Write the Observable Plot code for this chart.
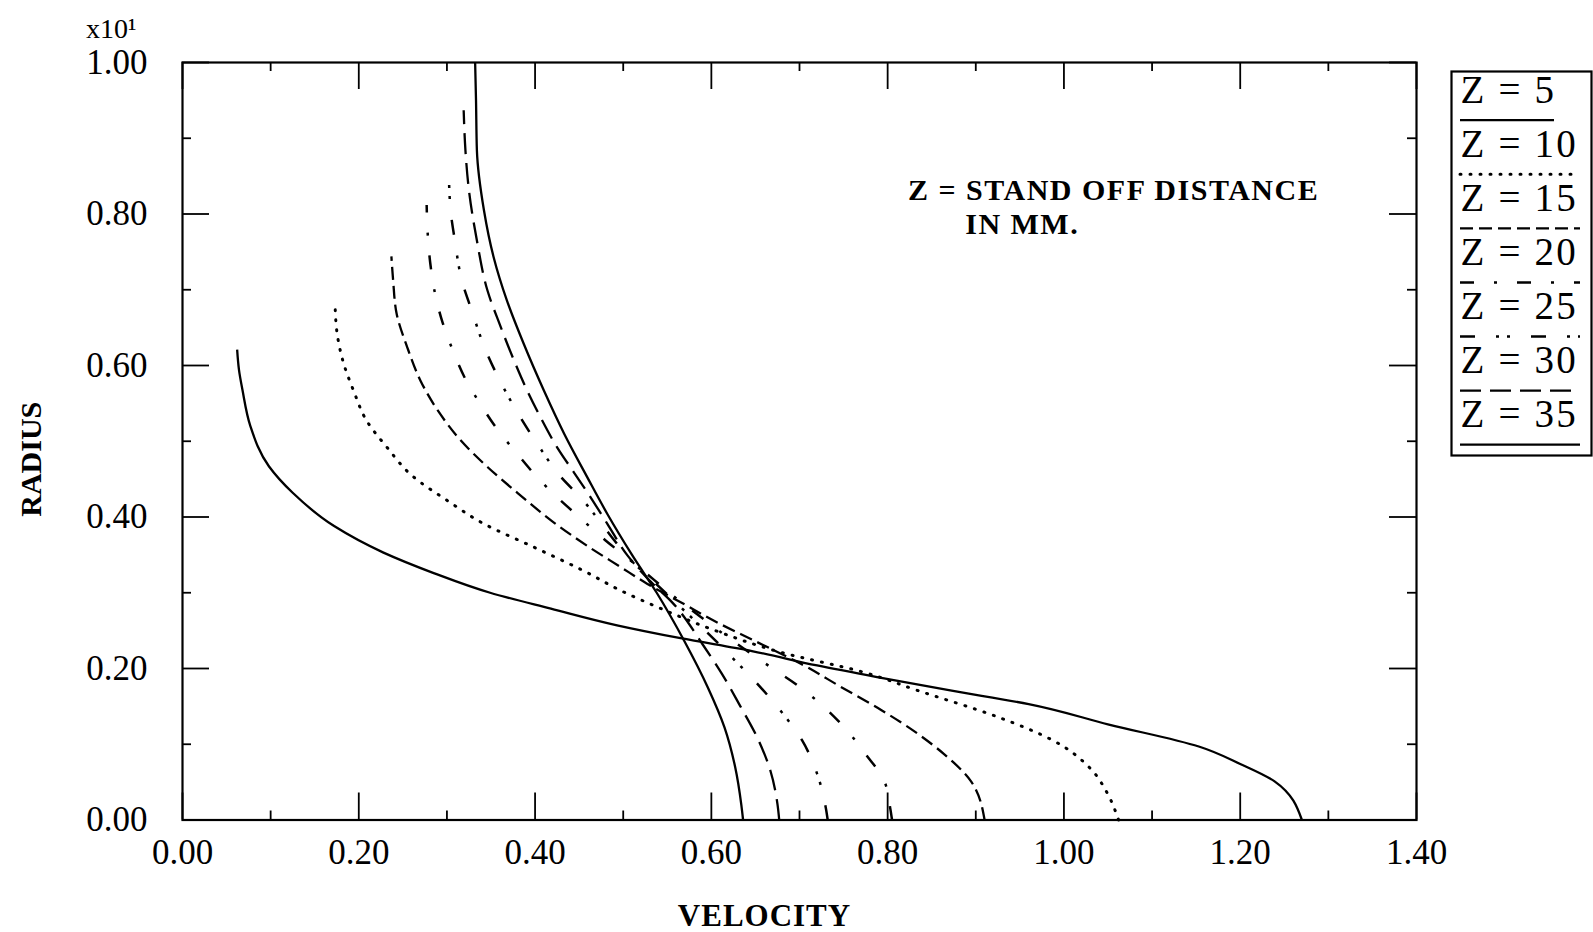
<!DOCTYPE html>
<html><head><meta charset="utf-8">
<script src="https://cdn.jsdelivr.net/npm/d3@7"></script>
<script src="https://cdn.jsdelivr.net/npm/@observablehq/plot@0.6"></script>
<style>
html,body{margin:0;padding:0;background:#fff;}
#wrap{position:relative;width:1593px;height:932px;overflow:hidden;background:#fff;}
#legend{position:absolute;left:1451px;top:61px;}
#legend text{letter-spacing:2.2px;}
</style></head><body><div id="wrap"><div id="main"></div><div id="legend"></div></div>
<script>
// ---- data: [velocity, radius] ----
const seriesNames = ["Z = 5", "Z = 10", "Z = 15", "Z = 20", "Z = 25", "Z = 30", "Z = 35"];
const z5 = [[0.062,0.621],[0.064,0.595],[0.068,0.568],[0.077,0.520],[0.098,0.467],[0.125,0.432],[0.172,0.388],[0.228,0.353],[0.285,0.326],[0.349,0.300],[0.418,0.279],[0.493,0.257],[0.565,0.240],[0.646,0.223],[0.720,0.204],[0.796,0.187],[0.871,0.171],[0.960,0.153],[1.051,0.126],[1.153,0.097],[1.200,0.074],[1.239,0.051],[1.270,0.0]];
const z10 = [[0.173,0.684],[0.175,0.646],[0.183,0.602],[0.194,0.567],[0.209,0.527],[0.232,0.492],[0.262,0.453],[0.300,0.422],[0.342,0.391],[0.399,0.360],[0.455,0.329],[0.497,0.303],[0.539,0.281],[0.600,0.252],[0.677,0.222],[0.773,0.195],[0.834,0.171],[0.925,0.136],[0.986,0.106],[1.030,0.068],[1.048,0.038],[1.062,0.0]];
const z15 = [[0.237,0.744],[0.239,0.712],[0.243,0.668],[0.255,0.624],[0.270,0.580],[0.290,0.540],[0.315,0.502],[0.346,0.466],[0.384,0.428],[0.421,0.393],[0.459,0.362],[0.497,0.334],[0.527,0.312],[0.569,0.285],[0.603,0.263],[0.650,0.236],[0.702,0.206],[0.748,0.175],[0.793,0.145],[0.834,0.114],[0.864,0.087],[0.894,0.052],[0.910,0.0]];
const z20 = [[0.277,0.812],[0.278,0.778],[0.281,0.736],[0.286,0.698],[0.295,0.657],[0.307,0.619],[0.321,0.582],[0.338,0.549],[0.357,0.516],[0.380,0.483],[0.402,0.453],[0.427,0.424],[0.452,0.398],[0.480,0.369],[0.508,0.343],[0.535,0.317],[0.561,0.292],[0.588,0.268],[0.625,0.236],[0.667,0.202],[0.701,0.175],[0.728,0.149],[0.754,0.118],[0.775,0.087],[0.796,0.052],[0.803,0.015],[0.805,0.0]];
const z25 = [[0.302,0.862],[0.304,0.807],[0.309,0.765],[0.317,0.712],[0.328,0.673],[0.344,0.620],[0.361,0.578],[0.381,0.536],[0.404,0.494],[0.427,0.456],[0.456,0.420],[0.480,0.384],[0.508,0.344],[0.537,0.312],[0.566,0.280],[0.595,0.248],[0.624,0.214],[0.652,0.180],[0.678,0.145],[0.703,0.105],[0.720,0.061],[0.730,0.015],[0.732,0.0]];
const z30 = [[0.319,0.937],[0.321,0.884],[0.325,0.831],[0.334,0.765],[0.346,0.699],[0.361,0.651],[0.376,0.607],[0.391,0.567],[0.406,0.532],[0.425,0.492],[0.444,0.459],[0.463,0.426],[0.482,0.391],[0.505,0.349],[0.530,0.316],[0.555,0.288],[0.590,0.232],[0.612,0.193],[0.632,0.152],[0.652,0.109],[0.667,0.065],[0.675,0.021],[0.677,0.0]];
const z35 = [[0.332,1.0],[0.333,0.95],[0.334,0.884],[0.342,0.805],[0.353,0.743],[0.368,0.686],[0.387,0.629],[0.410,0.567],[0.433,0.510],[0.459,0.453],[0.482,0.404],[0.510,0.350],[0.538,0.300],[0.569,0.237],[0.596,0.175],[0.615,0.122],[0.627,0.070],[0.634,0.020],[0.636,0.0]];
const xMajorTicks = [0, 0.2, 0.4, 0.6, 0.8, 1.0, 1.2, 1.4];
const xMinorTicks = [0.1, 0.3, 0.5, 0.7, 0.9, 1.1, 1.3];
const yMajorTicks = [0, 0.2, 0.4, 0.6, 0.8, 1.0];
const yMinorTicks = [0.1, 0.3, 0.5, 0.7, 0.9];
const xLabel = "VELOCITY";
const yLabel = "RADIUS";
const scaleNote = "x10¹";
const noteLines = ["Z = STAND OFF DISTANCE", "IN MM."];
const noteVel = [0.823, 0.888];
const noteRad = [0.831, 0.786];

// ---- styles (kept separate from data) ----
const seriesData = [z5, z10, z15, z20, z25, z30, z35];
const dashes = [null, "1,9", "13,6", "14,20,3,20", "15,21,3,8,3,21", "21,9", null];
const caps = ["butt", "round", "butt", "butt", "butt", "butt", "butt"];
const widths = [2.3, 3, 2.3, 2.5, 2.5, 2.3, 2.3];

const W = 1593, H = 932;
const mL = 182, mR = 177, mT = 62, mB = 112.5;
const innerW = W - mL - mR, innerH = H - mT - mB;
const majLen = 27, minLen = 9;
const serif = "'Liberation Serif', 'Times New Roman', serif";

const marks = [];
seriesData.forEach((data, i) => {
  const sorted = data.slice().sort((a, b) => a[1] - b[1]);
  marks.push(Plot.line(sorted, {
    x: d => d[0], y: d => d[1], stroke: "#000", strokeWidth: widths[i],
    strokeDasharray: dashes[i] || undefined, strokeLinecap: caps[i], curve: "monotone-y"
  }));
});
// ticks inside the frame (all four sides)
[[xMajorTicks, majLen], [xMinorTicks, minLen]].forEach(([t, L]) => {
  marks.push(Plot.ruleX(t, {x: d => d, insetTop: innerH - L, stroke: "#000", strokeWidth: 1.8}));
  marks.push(Plot.ruleX(t, {x: d => d, insetBottom: innerH - L, stroke: "#000", strokeWidth: 1.8}));
});
[[yMajorTicks, majLen], [yMinorTicks, minLen]].forEach(([t, L]) => {
  marks.push(Plot.ruleY(t, {y: d => d, insetRight: innerW - L, stroke: "#000", strokeWidth: 1.8}));
  marks.push(Plot.ruleY(t, {y: d => d, insetLeft: innerW - L, stroke: "#000", strokeWidth: 1.8}));
});
marks.push(Plot.frame({stroke: "#000", strokeWidth: 2.2}));
marks.push(Plot.axisX({ticks: xMajorTicks, tickSize: 0, tickPadding: 19, tickFormat: d3.format(".2f"), fontSize: 35, label: null}));
marks.push(Plot.axisY({ticks: yMajorTicks, tickSize: 0, tickPadding: 35, tickFormat: d3.format(".2f"), fontSize: 35, label: null}));
marks.push(Plot.text([xLabel], {text: d => d, frameAnchor: "bottom", lineAnchor: "middle", textAnchor: "middle", dx: -35, dy: 96, fontSize: 31, fontWeight: "bold"}));
marks.push(Plot.text([yLabel], {text: d => d, frameAnchor: "left", textAnchor: "middle", lineAnchor: "middle", dx: -151, dy: 18, rotate: -90, fontSize: 30, fontWeight: "bold"}));
marks.push(Plot.text([scaleNote], {text: d => d, frameAnchor: "top-left", textAnchor: "end", lineAnchor: "middle", dx: -46, dy: -33, fontSize: 28}));
marks.push(Plot.text(noteLines, {x: (d, i) => noteVel[i], y: (d, i) => noteRad[i], text: d => d, textAnchor: "start", fontSize: 30, fontWeight: "bold"}));

const chart = Plot.plot({
  width: W, height: H,
  marginLeft: mL, marginRight: mR, marginTop: mT, marginBottom: mB,
  x: {domain: [0, 1.4], axis: null},
  y: {domain: [0, 1.0], axis: null},
  style: {fontFamily: serif, fontSize: "33px", color: "#000", background: "#fff"},
  marks
});
// letter spacing for the annotation and the x title
d3.select(chart).selectAll("text")
  .filter(function() { return noteLines.includes(this.textContent); })
  .style("letter-spacing", "1.5px");
d3.select(chart).selectAll("text")
  .filter(function() { return this.textContent === xLabel; })
  .style("letter-spacing", "1px");
document.getElementById("main").appendChild(chart);

// ---- legend ----
const LW = 140, LH = 394, LTop = 10;
const rowIdx = seriesNames.map((n, i) => i);
const legendMarks = [Plot.frame({stroke: "#000", strokeWidth: 2.2, insetTop: LTop})];
legendMarks.push(Plot.text(seriesNames, {x: 9, y: (d, i) => i + 0.35, text: d => d, textAnchor: "start", fontSize: 39}));
rowIdx.forEach(i => {
  legendMarks.push(Plot.ruleY([i + 0.9], {x1: 9, x2: i === 0 ? 103 : 129, stroke: "#000", strokeWidth: widths[i],
    strokeDasharray: dashes[i] || undefined, strokeLinecap: caps[i]}));
});
const legend = Plot.plot({
  width: LW, height: LH, margin: 0,
  x: {domain: [0, LW], range: [0, LW], axis: null},
  y: {domain: [0, 7.1], range: [LTop, LH], axis: null},
  style: {fontFamily: serif, color: "#000", background: "transparent", overflow: "visible"},
  marks: legendMarks
});
document.getElementById("legend").appendChild(legend);
</script>
</body></html>
